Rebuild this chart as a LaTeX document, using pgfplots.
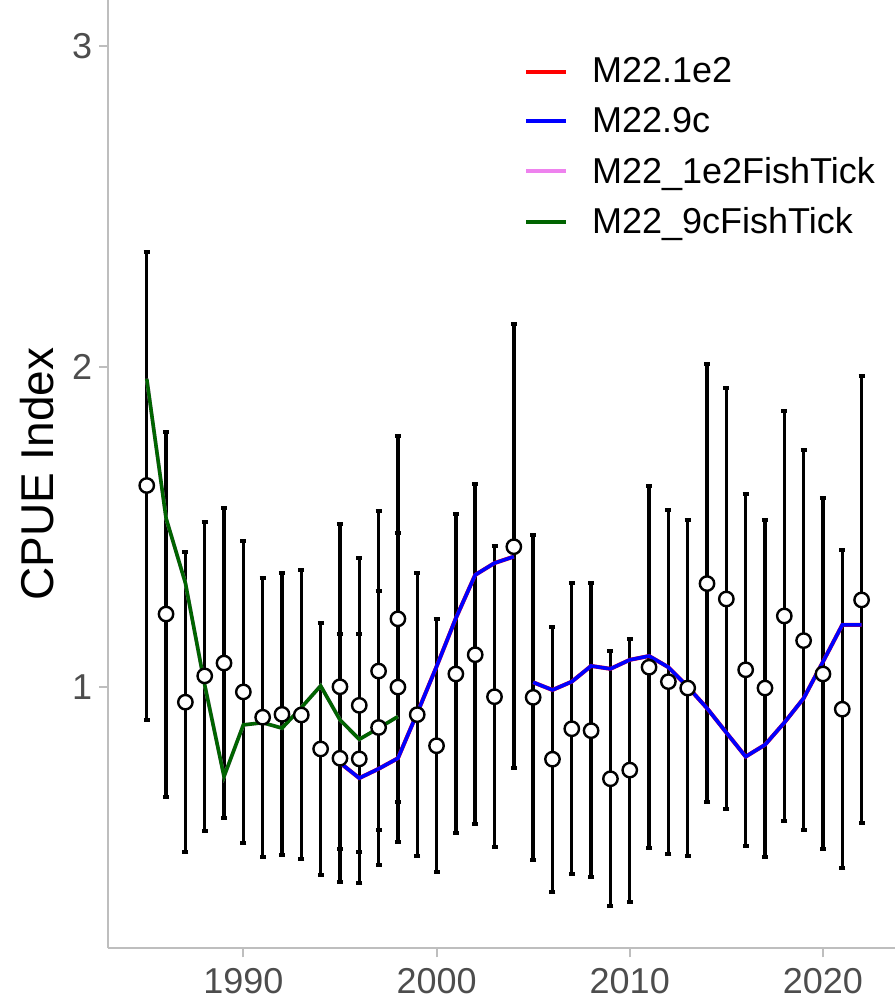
\documentclass[border=0pt]{standalone}
\usepackage{fontspec}
\setmainfont{Liberation Sans}
\usepackage{pgfplots}
\usepackage{pgfplotstable}
\pgfplotsset{compat=1.18}

\definecolor{gray30}{RGB}{77,77,77}
\definecolor{axisgray}{RGB}{190,190,190}
\definecolor{fishviolet}{RGB}{238,130,238}
\definecolor{fishgreen}{RGB}{0,100,0}

% Observed CPUE index with interval bounds, FishTick years
\pgfplotstableread{
yr   v     hi    lo
1985 1.630 2.360 0.899
1986 1.229 1.798 0.659
1987 0.954 1.422 0.488
1988 1.036 1.517 0.553
1989 1.076 1.561 0.592
1990 0.986 1.458 0.516
1991 0.907 1.341 0.470
1992 0.916 1.358 0.476
1993 0.914 1.367 0.464
1994 0.808 1.202 0.414
1995 1.002 1.511 0.497
1996 0.944 1.405 0.485
1997 1.051 1.549 0.555
1998 1.214 1.786 0.644
}\obsfish

% Observed CPUE index with interval bounds, survey years
\pgfplotstableread{
yr   v     hi    lo
1995 0.779 1.167 0.392
1996 0.777 1.167 0.391
1997 0.875 1.302 0.446
1998 1.001 1.481 0.519
1999 0.915 1.356 0.474
2000 0.818 1.213 0.424
2001 1.042 1.540 0.545
2002 1.102 1.634 0.573
2003 0.971 1.441 0.503
2004 1.439 2.133 0.750
2005 0.969 1.476 0.462
2006 0.776 1.190 0.363
2007 0.871 1.326 0.418
2008 0.865 1.326 0.410
2009 0.715 1.114 0.318
2010 0.742 1.151 0.332
2011 1.063 1.627 0.500
2012 1.018 1.554 0.480
2013 0.998 1.523 0.474
2014 1.324 2.008 0.641
2015 1.276 1.934 0.620
2016 1.055 1.603 0.506
2017 0.998 1.523 0.470
2018 1.223 1.863 0.584
2019 1.146 1.740 0.555
2020 1.042 1.592 0.495
2021 0.932 1.429 0.436
2022 1.273 1.973 0.576
}\obssurvey

% Model fits, survey index (gap between the two survey series)
\pgfplotstableread{
yr   fit
1995 0.765
1996 0.717
1997 0.746
1998 0.779
1999 0.920
2000 1.065
2001 1.216
2002 1.351
2003 1.388
2004 1.408
2004.5 nan
2005 1.016
2006 0.992
2007 1.018
2008 1.067
2009 1.058
2010 1.086
2011 1.098
2012 1.063
2013 1.002
2014 0.935
2015 0.859
2016 0.784
2017 0.821
2018 0.890
2019 0.966
2020 1.080
2021 1.195
2022 1.195
}\fitsurvey

% Model fits, FishTick index
\pgfplotstableread{
yr   fit
1985 1.963
1986 1.528
1987 1.326
1988 1.008
1989 0.722
1990 0.883
1991 0.890
1992 0.873
1993 0.937
1994 1.005
1995 0.899
1996 0.838
1997 0.873
1998 0.909
}\fitfish

\begin{document}
\begin{tikzpicture}
\begin{axis}[
  at={(54.15pt,27.85pt)}, anchor=south west,
  width=393.35pt, height=474.15pt, scale only axis,
  xmin=1983.01, xmax=2023.73, ymin=0.186, ymax=3.145,
  axis x line*=bottom, axis y line*=left,
  axis line style={-, draw=axisgray, line width=1pt},
  xtick={1990,2000,2010,2020}, ytick={1,2,3},
  tick align=outside, major tick length=4.5pt,
  tick style={draw=axisgray, line width=1pt},
  minor tick num=0,
  /pgf/number format/assume math mode=true,
  /pgf/number format/set thousands separator={},
  tick label style={font=\fontsize{18}{21}\selectfont, text=gray30},
  xticklabel style={yshift=-2pt},
  ylabel={CPUE Index},
  every axis y label/.style={at={(rel axis cs:0,0.5)}, xshift=-35.6pt,
    rotate=90, anchor=center, font=\fontsize{23}{26}\selectfont},
  unbounded coords=jump,
  legend cell align=left,
  legend style={at={(rel axis cs:0.528,0.944)}, anchor=north west,
    draw=none, fill=none, font=\fontsize{18}{21}\selectfont,
    row sep=6.8pt, inner sep=0pt},
  legend image code/.code={%
    \draw[#1, line width=2pt] (0pt,0pt) -- (20pt,0pt);
    \path[draw=none] (0pt,0pt) -- (31pt,0pt);},
  error bars/y dir=both, error bars/y explicit,
  error bars/error bar style={line width=1.7pt, black},
  error bars/error mark options={rotate=90, line width=2pt, mark size=1.5pt, black},
]
\addplot[only marks, mark=*, mark size=3.6pt,
  mark options={fill=white, draw=black, line width=1.2pt}, forget plot]
  table[x=yr, y=v, y error plus expr=\thisrow{hi}-\thisrow{v},
        y error minus expr=\thisrow{v}-\thisrow{lo}] {\obsfish};
\addplot[only marks, mark=*, mark size=3.6pt,
  mark options={fill=white, draw=black, line width=1.2pt}, forget plot]
  table[x=yr, y=v, y error plus expr=\thisrow{hi}-\thisrow{v},
        y error minus expr=\thisrow{v}-\thisrow{lo}] {\obssurvey};

\addplot[red, line width=2pt, no marks] table[x=yr, y=fit] {\fitsurvey};
\addlegendentry{M22.1e2}
\addplot[blue, line width=1.8pt, no marks] table[x=yr, y=fit] {\fitsurvey};
\addlegendentry{M22.9c}
\addplot[fishviolet, line width=1.8pt, no marks] table[x=yr, y=fit] {\fitfish};
\addlegendentry{M22\_1e2FishTick}
\addplot[fishgreen, line width=1.8pt, no marks] table[x=yr, y=fit] {\fitfish};
\addlegendentry{M22\_9cFishTick}
\end{axis}
\pgfresetboundingbox
\useasboundingbox (0,0) rectangle (447.5pt,502pt);
\end{tikzpicture}
\end{document}
